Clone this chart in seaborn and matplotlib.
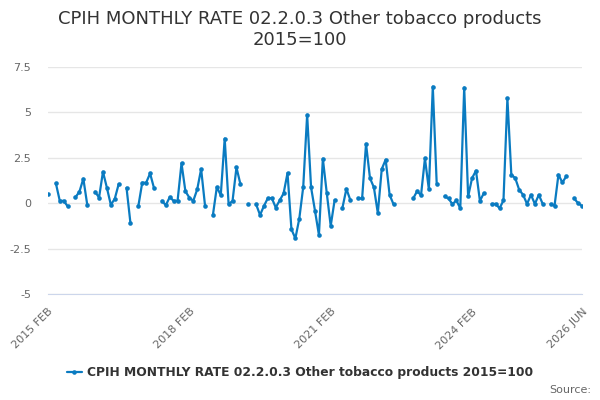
import numpy as np
import pandas as pd
import matplotlib
matplotlib.use("Agg")
import matplotlib.pyplot as plt
import seaborn as sns

TITLE = "CPIH MONTHLY RATE 02.2.0.3 Other tobacco products\n2015=100"
SERIES_NAME = "CPIH MONTHLY RATE 02.2.0.3 Other tobacco products 2015=100"

# month index 0 = 2015 FEB ... 136 = 2026 JUN, None = no value
months = list(range(137))
values = [
    0.52, None, 1.1, 0.13, 0.13, -0.17, None, 0.33, 0.63, 1.35,
    -0.09, None, 0.63, 0.31, 1.73, 0.85, -0.09, 0.24, 1.05, None,
    0.85, -1.1, None, -0.17, 1.13, 1.13, 1.64, 0.83, None, 0.13,
    -0.11, 0.33, 0.13, 0.13, 2.2, 0.65, 0.31, 0.13, 0.76, 1.88,
    -0.15, None, -0.65, 0.89, 0.44, 3.56, -0.06, 0.13, 1.97, 1.05,
    None, -0.06, None, -0.06, -0.65, -0.15, 0.28, 0.28, -0.24, 0.15,
    0.54, 1.66, -1.44, -1.94, -0.85, 0.89, 4.87, 0.87, -0.42, -1.75,
    2.45, 0.55, -1.25, 0.17, None, -0.24, 0.79, 0.17, None, 0.26,
    0.26, 3.27, 1.38, 0.87, -0.55, 1.88, 2.4, 0.46, -0.06, None,
    None, None, None, 0.26, 0.66, 0.44, 2.47, 0.76, 6.42, 1.05,
    None, 0.37, 0.26, -0.05, 0.15, -0.28, 6.37, 0.37, 1.38, 1.79,
    0.13, 0.55, None, -0.04, -0.04, -0.28, 0.15, 5.77, 1.57, 1.38,
    0.74, 0.46, -0.04, 0.46, -0.04, 0.46, -0.04, None, -0.04, -0.15,
    1.57, 1.14, 1.48, None, 0.26, 0.0, -0.15,
]
tick_pos = [0, 9, 18, 27, 36, 45, 54, 63, 72, 81, 90, 99, 108, 117, 126, 136]
tick_labels = ["2015 FEB", "", "", "", "2018 FEB", "", "", "", "2021 FEB",
               "", "", "", "2024 FEB", "", "", "2026 JUN"]
y_ticks = [-5, -2.5, 0, 2.5, 5, 7.5]

LINE_COLOR = "#0a7bc1"

df = pd.DataFrame({"month": months, "value": values}).astype(float)
# split into runs so gaps are not joined
df["seg"] = df["value"].isna().cumsum()
df = df.dropna()

sns.set_style("white")
plt.rcParams["font.family"] = ["DejaVu Sans"]

fig = plt.figure(figsize=(6, 4), dpi=100)
ax = fig.add_axes([0.08, 0.265, 0.89, 0.5675])

sns.lineplot(data=df, x="month", y="value", units="seg", estimator=None,
             color=LINE_COLOR, linewidth=1.6, marker="o", markersize=3.3,
             markeredgewidth=0, ax=ax, legend=False)

ax.set_xlim(0, 136)
ax.set_ylim(-5, 7.5)
ax.set_yticks(y_ticks)
ax.set_yticklabels(["-5", "-2.5", "0", "2.5", "5", "7.5"])
ax.set_xticks(tick_pos)
ax.set_xticklabels(tick_labels, rotation=45, ha="right", rotation_mode="anchor")
ax.grid(axis="y", color="#e6e6e6", linewidth=1)
ax.set_axisbelow(True)
for s in ["top", "right", "left"]:
    ax.spines[s].set_visible(False)
ax.spines["bottom"].set_color("#ccd6eb")
ax.tick_params(axis="x", colors="#ccd6eb", length=7, width=1, labelcolor="#666666",
               labelsize=8, pad=2)
ax.tick_params(axis="y", length=0, labelcolor="#666666", labelsize=8, pad=12)
ax.set_xlabel("")
ax.set_ylabel("")

fig.suptitle(TITLE, y=0.975, fontsize=13, color="#333333")

# legend
handle = plt.Line2D([], [], color=LINE_COLOR, linewidth=1.6, marker="o",
                    markersize=3.3, markeredgewidth=0)
fig.legend([handle], [SERIES_NAME], loc="center", bbox_to_anchor=(0.5, 0.068),
           frameon=False, prop={"weight": "bold", "size": 8.8},
           labelcolor="#333333", handlelength=1.3, handletextpad=0.4)

fig.text(0.985, 0.025, "Source:", ha="right", va="center", fontsize=8, color="#666666")

fig.savefig("out.png", dpi=100)
